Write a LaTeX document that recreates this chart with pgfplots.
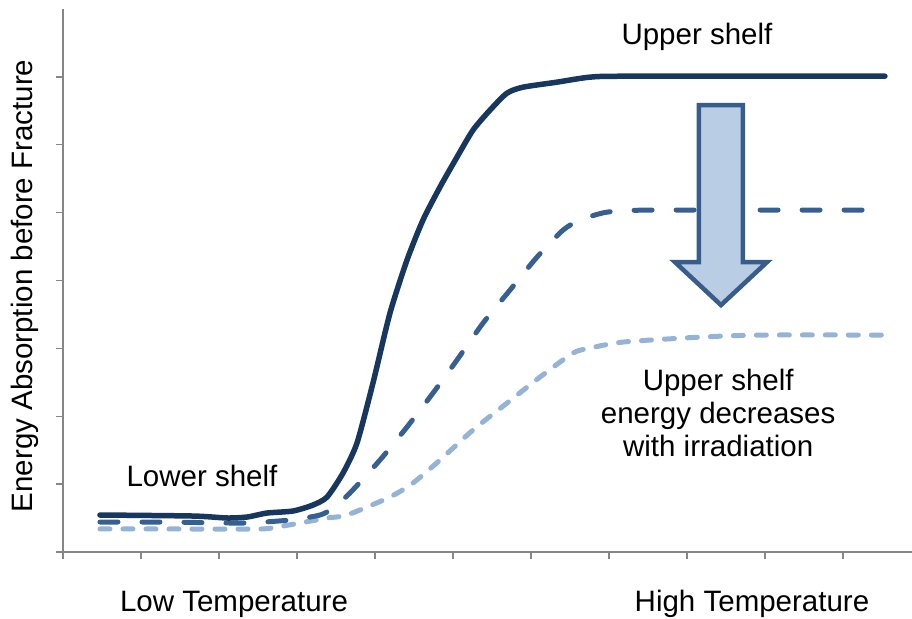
\documentclass[border=0pt]{standalone}
\usepackage{fontspec}
\setmainfont{Liberation Sans}
\usepackage{pgfplots}
\pgfplotsset{compat=1.18}
\definecolor{cdark}{RGB}{23,55,94}
\definecolor{cmid}{RGB}{55,96,146}
\definecolor{clight}{RGB}{149,179,215}
\definecolor{afill}{RGB}{185,205,229}
\definecolor{aedge}{RGB}{56,93,138}
\definecolor{axgray}{RGB}{134,134,134}
\newcommand{\fsz}{\fontsize{29.5bp}{33bp}\selectfont}
\begin{document}
\begin{tikzpicture}
\begin{axis}[name=ax, at={(0,0)}, anchor=south west,
  width=849bp, height=543bp, scale only axis,
  xmin=0, xmax=10.885, ymin=0, ymax=8,
  axis x line=bottom, axis y line=left,
  axis line style={-, draw=axgray, line width=1.3bp},
  xtick={0,...,10}, ytick={0,...,7},
  xticklabels={}, yticklabels={},
  tick align=outside, major tick length=7bp,
  tick style={axgray, line width=1.3bp},
  clip=false,
  ylabel={Energy Absorption before Fracture},
  ylabel style={at={(rel axis cs:-0.0448,0.49)}, anchor=center, font=\fsz},
]
% irradiated (most)
\addplot[clight, line width=5bp, line cap=round, dash pattern=on 10bp off 13bp, smooth, tension=0.4] coordinates {
(0.474,0.339) (1.5,0.339) (2.526,0.339) (2.744,0.368) (3.038,0.427) (3.385,0.501)
(3.641,0.545) (4.192,0.810) (4.487,1.016) (4.833,1.355) (5.256,1.797) (5.692,2.194)
(6.115,2.577) (6.538,2.931) (6.756,3.004) (7.179,3.093) (8.167,3.166) (8.936,3.196) (10.538,3.196)};
% irradiated
\addplot[cmid, line width=5bp, line cap=round, dash pattern=on 18bp off 24bp, smooth, tension=0.4] coordinates {
(0.474,0.442) (1.4,0.440) (2.308,0.427) (2.910,0.471) (3.295,0.545) (3.462,0.648)
(3.679,0.869) (4.064,1.355) (4.410,1.841) (4.744,2.342) (5.051,2.828) (5.385,3.373)
(5.731,3.859) (6.077,4.345) (6.410,4.742) (6.628,4.890) (6.974,5.007) (7.526,5.037) (10.436,5.037)};
% unirradiated
\addplot[cdark, line width=5.5bp, line cap=round, smooth, tension=0.4] coordinates {
(0.474,0.545) (1.667,0.530) (2.103,0.501) (2.359,0.515) (2.615,0.574) (2.949,0.604)
(3.205,0.692) (3.385,0.810) (3.590,1.163) (3.769,1.605) (3.974,2.489) (4.192,3.520)
(4.410,4.300) (4.615,4.890) (4.833,5.376) (5.051,5.817) (5.256,6.215) (5.474,6.510)
(5.692,6.760) (5.897,6.848) (6.333,6.922) (6.756,6.996) (7.269,7.010) (10.538,7.010)};
% arrow
\draw[fill=afill, draw=aedge, line width=4.5bp, line join=miter]
  (axis cs:8.154,6.583) -- (axis cs:8.718,6.583) -- (axis cs:8.718,4.271)
  -- (axis cs:9.026,4.271) -- (axis cs:8.436,3.638) -- (axis cs:7.846,4.271)
  -- (axis cs:8.154,4.271) -- cycle;
\node[font=\fsz] at (axis cs:8.128,7.585) {Upper shelf};
\node[font=\fsz] at (axis cs:1.782,1.119) {Lower shelf};
\node[font=\fsz, align=center] at (axis cs:8.40,2.047) {Upper shelf\\energy decreases\\with irradiation};
\node[font=\fsz] at (axis cs:2.192,-0.766) {Low Temperature};
\node[font=\fsz] at (axis cs:8.833,-0.766) {High Temperature};
\end{axis}
\pgfresetboundingbox
\path[use as bounding box] ([shift={(-63bp,-67bp)}]ax.south west) rectangle ([shift={(0bp,9bp)}]ax.north east);
\end{tikzpicture}
\end{document}
